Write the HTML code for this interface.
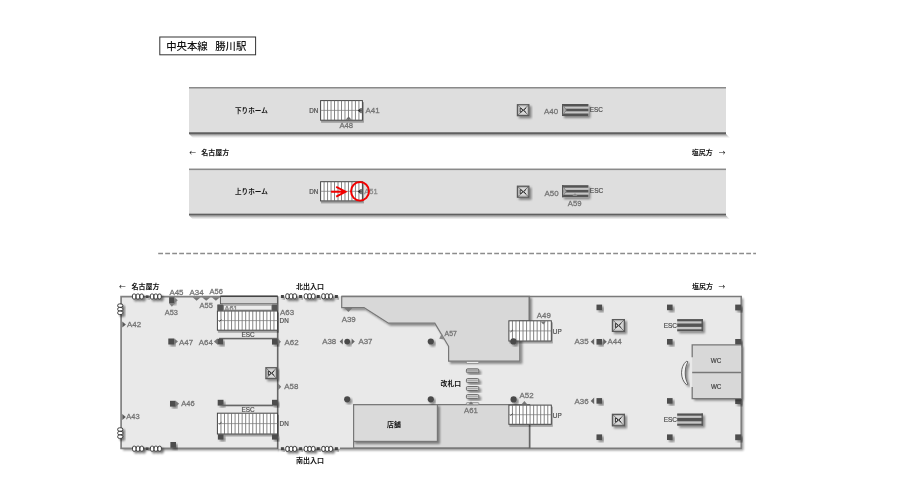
<!DOCTYPE html>
<html lang="ja">
<head>
<meta charset="utf-8">
<title>中央本線 勝川駅</title>
<style>
html,body{margin:0;padding:0;background:#fff;}
body{width:919px;height:491px;overflow:hidden;}
svg{display:block;will-change:transform;font-family:"Liberation Sans","Noto Sans CJK JP",sans-serif;}
</style>
</head>
<body>
<svg width="919" height="491" viewBox="0 0 919 491">
<defs>
<filter id="sh" x="-20%" y="-20%" width="150%" height="160%">
<feGaussianBlur in="SourceAlpha" stdDeviation="0.8"/>
<feOffset dx="1.6" dy="1.6" result="b"/>
<feComponentTransfer><feFuncA type="linear" slope="0.42"/></feComponentTransfer>
<feMerge><feMergeNode/><feMergeNode in="SourceGraphic"/></feMerge>
</filter>
<filter id="sh2" x="-20%" y="-20%" width="150%" height="160%">
<feGaussianBlur in="SourceAlpha" stdDeviation="0.7"/>
<feOffset dx="1.2" dy="1.5" result="b"/>
<feComponentTransfer><feFuncA type="linear" slope="0.3"/></feComponentTransfer>
<feMerge><feMergeNode/><feMergeNode in="SourceGraphic"/></feMerge>
</filter>
<filter id="shw" x="-30%" y="-50%" width="180%" height="250%">
<feGaussianBlur in="SourceAlpha" stdDeviation="0.9"/>
<feOffset dx="2.4" dy="2.4" result="b"/>
<feComponentTransfer><feFuncA type="linear" slope="0.5"/></feComponentTransfer>
<feMerge><feMergeNode/><feMergeNode in="SourceGraphic"/></feMerge>
</filter>
<filter id="shp" x="-5%" y="-20%" width="110%" height="160%">
<feGaussianBlur in="SourceAlpha" stdDeviation="1"/>
<feOffset dx="1.8" dy="2" result="b"/>
<feComponentTransfer><feFuncA type="linear" slope="0.42"/></feComponentTransfer>
<feMerge><feMergeNode/><feMergeNode in="SourceGraphic"/></feMerge>
</filter>
<linearGradient id="pg" x1="0" y1="0" x2="0" y2="1"><stop offset="0" stop-color="#000" stop-opacity="0.42"/><stop offset="0.5" stop-color="#000" stop-opacity="0.16"/><stop offset="1" stop-color="#000" stop-opacity="0"/></linearGradient>
</defs>
<rect width="919" height="491" fill="#fff"/>

<rect x="159.8" y="37" width="95.8" height="17.8" fill="#fff" stroke="#333" stroke-width="1"/>
<text x="166.2" y="50.2" font-size="10.4" fill="#111" font-weight="500" text-anchor="start" >中央本線</text>
<text x="215.2" y="50.2" font-size="10.4" fill="#111" font-weight="500" text-anchor="start" >勝川駅</text>
<rect x="189" y="87" width="537" height="45.19999999999999" fill="#dedede"/>
<rect x="189" y="87" width="537" height="1.5" fill="#8a8a8a"/>
<polygon points="189,134.10 726,134.10 730,138.10 193,138.10" fill="url(#pg)"/>
<rect x="189" y="132.2" width="537" height="1.9" fill="#606060"/>
<rect x="189" y="168.6" width="537" height="45.0" fill="#dedede"/>
<rect x="189" y="168.6" width="537" height="1.5" fill="#8a8a8a"/>
<polygon points="189,215.50 726,215.50 730,219.50 193,219.50" fill="url(#pg)"/>
<rect x="189" y="213.6" width="537" height="1.9" fill="#606060"/>
<text x="235" y="113" font-size="6.6" fill="#111" font-weight="bold" text-anchor="start" >下りホーム</text>
<text x="235" y="194" font-size="6.6" fill="#111" font-weight="bold" text-anchor="start" >上りホーム</text>
<text x="189.29999999999998" y="155.29999999999998" font-size="6.7" font-weight="400" fill="#111" style="font-family:'Noto Sans CJK JP',sans-serif">←</text>
<text x="201.2" y="155.3" font-size="7" fill="#111" font-weight="bold" text-anchor="start" >名古屋方</text>
<text x="691.8" y="155.0" font-size="7" fill="#111" font-weight="bold" text-anchor="start" >塩尻方</text>
<text x="718.7" y="155.1" font-size="6.7" font-weight="400" fill="#111" style="font-family:'Noto Sans CJK JP',sans-serif">→</text>
<g filter="url(#sh2)"><rect x="320.6" y="100.6" width="41.8" height="19.6" fill="#fff" stroke="#444" stroke-width="1"/></g>
<path d="M324.08 100.6V120.19999999999999M327.57 100.6V120.19999999999999M331.05 100.6V120.19999999999999M334.53 100.6V120.19999999999999M338.02 100.6V120.19999999999999M341.50 100.6V120.19999999999999M344.98 100.6V120.19999999999999M348.47 100.6V120.19999999999999M351.95 100.6V120.19999999999999M355.43 100.6V120.19999999999999M358.92 100.6V120.19999999999999" stroke="#666" stroke-width="0.8" fill="none"/>
<path d="M320.6 110.39999999999999H362.40000000000003" stroke="#777" stroke-width="0.7" fill="none"/>
<polygon points="357.6,110.6 360.5,108.3 360.5,112.9" fill="#333"/>
<path d="M361.1 108V113.2" stroke="#333" stroke-width="1"/>
<polygon points="345.6,119.7 348.6,116.6 351.6,119.7" fill="#6a6a6a"/>
<text x="309.3" y="112.8" font-size="6.3" fill="#4d4d4d" stroke="#4d4d4d" stroke-width="0.18" font-weight="normal" text-anchor="start" >DN</text>
<text x="365.6" y="113.2" font-size="7.9" fill="#747474" stroke="#747474" stroke-width="0.28" font-weight="normal" text-anchor="start" >A41</text>
<text x="339.4" y="127.6" font-size="7.7" fill="#747474" stroke="#747474" stroke-width="0.28" font-weight="normal" text-anchor="start" >A48</text>
<g filter="url(#sh)"><rect x="517.45" y="104.75" width="11.40" height="10.90" fill="#d8d8d8" stroke="#5a5a5a" stroke-width="1.3"/></g>
<rect x="518.65" y="105.95" width="9.00" height="8.50" fill="none" stroke="#aaa" stroke-width="0.6"/>
<path d="M517.45 104.75L528.85 115.65M528.85 104.75L517.45 115.65" stroke="#5a5a5a" stroke-width="0.75" fill="none"/>
<path d="M520.15 108.10V112.30Q522.65 111.70 522.55 110.20Q522.65 108.70 520.15 108.10M526.15 107.80L523.65 110.20L526.15 112.60" stroke="#2a2a2a" stroke-width="0.95" fill="none"/>
<text x="544" y="113.8" font-size="7.9" fill="#747474" stroke="#747474" stroke-width="0.28" font-weight="normal" text-anchor="start" >A40</text>
<g filter="url(#sh)"><rect x="562" y="104" width="26.4" height="12" fill="#c6c6c6"/></g>
<rect x="562" y="104.00" width="26.4" height="2.5" fill="#545454"/>
<rect x="562" y="108.70" width="26.4" height="2.6" fill="#545454"/>
<rect x="562" y="113.50" width="26.4" height="2.5" fill="#545454"/>
<rect x="562" y="104" width="1.4" height="12" fill="#545454"/>
<path d="M563.2 105.6L566.4 110.0L563.2 114.4" stroke="#777" stroke-width="0.7" fill="#a8a8a8"/>
<text x="589.8" y="111.6" font-size="6.4" fill="#4d4d4d" stroke="#4d4d4d" stroke-width="0.18" font-weight="normal" text-anchor="start" >ESC</text>
<g filter="url(#sh2)"><rect x="320.6" y="181.7" width="41.8" height="19.2" fill="#fff" stroke="#444" stroke-width="1"/></g>
<path d="M324.08 181.7V200.89999999999998M327.57 181.7V200.89999999999998M331.05 181.7V200.89999999999998M334.53 181.7V200.89999999999998M338.02 181.7V200.89999999999998M341.50 181.7V200.89999999999998M344.98 181.7V200.89999999999998M348.47 181.7V200.89999999999998M351.95 181.7V200.89999999999998M355.43 181.7V200.89999999999998M358.92 181.7V200.89999999999998" stroke="#666" stroke-width="0.8" fill="none"/>
<path d="M320.6 191.29999999999998H362.40000000000003" stroke="#777" stroke-width="0.7" fill="none"/>
<polygon points="357.6,191.6 360.5,189.3 360.5,193.9" fill="#333"/>
<path d="M361.1 189V194.2" stroke="#333" stroke-width="1"/>
<text x="309.3" y="194.2" font-size="6.3" fill="#4d4d4d" stroke="#4d4d4d" stroke-width="0.18" font-weight="normal" text-anchor="start" >DN</text>
<text x="364.3" y="193.5" font-size="7.5" fill="#8a8a8a" stroke="#8a8a8a" stroke-width="0.28" font-weight="normal" text-anchor="start" >A51</text>
<g filter="url(#sh)"><rect x="517.45" y="186.25" width="11.40" height="10.90" fill="#d8d8d8" stroke="#5a5a5a" stroke-width="1.3"/></g>
<rect x="518.65" y="187.45" width="9.00" height="8.50" fill="none" stroke="#aaa" stroke-width="0.6"/>
<path d="M517.45 186.25L528.85 197.15M528.85 186.25L517.45 197.15" stroke="#5a5a5a" stroke-width="0.75" fill="none"/>
<path d="M520.15 189.60V193.80Q522.65 193.20 522.55 191.70Q522.65 190.20 520.15 189.60M526.15 189.30L523.65 191.70L526.15 194.10" stroke="#2a2a2a" stroke-width="0.95" fill="none"/>
<text x="544.6" y="195.8" font-size="7.9" fill="#747474" stroke="#747474" stroke-width="0.28" font-weight="normal" text-anchor="start" >A50</text>
<g filter="url(#sh)"><rect x="562" y="185.2" width="26.4" height="12" fill="#c6c6c6"/></g>
<rect x="562" y="185.20" width="26.4" height="2.5" fill="#545454"/>
<rect x="562" y="189.90" width="26.4" height="2.6" fill="#545454"/>
<rect x="562" y="194.70" width="26.4" height="2.5" fill="#545454"/>
<rect x="562" y="185.2" width="1.4" height="12" fill="#545454"/>
<path d="M563.2 186.79999999999998L566.4 191.2L563.2 195.6" stroke="#777" stroke-width="0.7" fill="#a8a8a8"/>
<text x="589.8" y="193.2" font-size="6.5" fill="#4d4d4d" stroke="#4d4d4d" stroke-width="0.18" font-weight="normal" text-anchor="start" >ESC</text>
<polygon points="572.4,195.9 575,193.2 577.6,195.9" fill="#8a8a8a"/>
<text x="567.8" y="205.8" font-size="7.7" fill="#747474" stroke="#747474" stroke-width="0.28" font-weight="normal" text-anchor="start" >A59</text>
<path d="M331.1 191.7H345M336.2 186.8L345.6 191.7L336.2 196.6" stroke="#f20000" stroke-width="1.9" fill="none" stroke-linejoin="miter"/>
<ellipse cx="360" cy="191.3" rx="9" ry="9.3" fill="none" stroke="#f20000" stroke-width="1.9"/>
<path d="M158.2 253.6H756" stroke="#8c8c8c" stroke-width="1.5" stroke-dasharray="4.8 2.2" fill="none"/>
<g filter="url(#shp)"><rect x="121" y="296.4" width="620.4" height="152" fill="#e9e9e9"/></g>
<rect x="121" y="296.4" width="620.4" height="152" fill="#e9e9e9"/>
<g filter="url(#sh)">
<polygon points="341.7,296.4 529.3,296.4 529.3,321 519.8,321 519.8,361.2 448.6,361.2 448.6,346.3 434.8,323.2 388.5,323.2 364,307.6 341.7,307.6" fill="#d8d8d8" stroke="#777" stroke-width="1.2" stroke-linejoin="miter"/>
</g>
<polygon points="353.6,404.7 529.6,404.7 529.6,448.2 353.6,448.2" fill="#d8d8d8" stroke="#777" stroke-width="1.2"/>
<g filter="url(#sh)"><rect x="353.6" y="404.7" width="83.8" height="36.7" fill="#dadada" stroke="#777" stroke-width="1.2"/></g>
<path d="M341.7 296.4H741.2V448.2H340" stroke="#7a7a7a" stroke-width="1.5" fill="none"/>
<path d="M529.4 296.4V321" stroke="#777" stroke-width="1.4" fill="none"/>
<path d="M529.6 424.7V448.2" stroke="#666" stroke-width="1.6" fill="none"/>
<path d="M277.5 296.7H121.1V448.4H277.5" stroke="#808080" stroke-width="1.7" fill="none"/>
<rect x="276.9" y="296.4" width="1.5" height="152.6" fill="#666" filter="url(#sh)"/>
<rect x="220.4" y="296.6" width="57" height="7.2" fill="#d4d4d4" stroke="#555" stroke-width="0.9"/>
<path d="M220.4 296.3H277.8" stroke="#444" stroke-width="1.4"/>
<rect x="217.4" y="304.6" width="60.1" height="6" fill="#808080"/>
<rect x="217.4" y="304.6" width="5.5" height="6" fill="#555"/>
<rect x="272.1" y="304.6" width="5.4" height="6" fill="#555"/>
<rect x="224" y="305.5" width="47.4" height="4.2" fill="#ececec"/>
<text x="224.6" y="311.0" font-size="7.2" fill="#808080" stroke="#808080" stroke-width="0.28" font-weight="normal" text-anchor="start" clip-path="url(#c61)">A61</text>
<clipPath id="c61"><rect x="224" y="305.5" width="20" height="4.2"/></clipPath>
<g filter="url(#sh2)"><rect x="217.4" y="311" width="60.1" height="19.2" fill="#fff" stroke="#444" stroke-width="1"/></g>
<path d="M220.94 311V330.2M224.47 311V330.2M228.01 311V330.2M231.54 311V330.2M235.08 311V330.2M238.61 311V330.2M242.15 311V330.2M245.68 311V330.2M249.22 311V330.2M252.75 311V330.2M256.29 311V330.2M259.82 311V330.2M263.36 311V330.2M266.89 311V330.2M270.43 311V330.2M273.96 311V330.2" stroke="#666" stroke-width="0.8" fill="none"/>
<path d="M217.4 320.6H277.5" stroke="#777" stroke-width="0.7" fill="none"/>
<path d="M219.2 321.6L221.6 319.6" stroke="#333" stroke-width="0.8"/>
<text x="241.6" y="336.6" font-size="6.4" fill="#4d4d4d" stroke="#4d4d4d" stroke-width="0.18" font-weight="normal" text-anchor="start" >ESC</text>
<rect x="219" y="337.8" width="58" height="1.4" fill="#666" filter="url(#sh)"/>
<rect x="217.2" y="338.8" width="6" height="5.6" fill="#4d4d4d" filter="url(#sh)"/>
<rect x="272" y="339" width="5.6" height="5.6" fill="#4d4d4d" filter="url(#sh)"/>
<polygon points="213.9,341.6 217.3,338.6 217.3,344.6" fill="#777"/>
<polygon points="277.8,338.8 281,341.8 277.8,344.8" fill="#777"/>
<rect x="217.7" y="399.8" width="5.8" height="5.8" fill="#4d4d4d" filter="url(#sh)"/>
<rect x="272" y="399.8" width="5.6" height="5.8" fill="#4d4d4d" filter="url(#sh)"/>
<rect x="222" y="404.6" width="51" height="1.4" fill="#666" filter="url(#sh)"/>
<text x="241.6" y="411.9" font-size="6.4" fill="#4d4d4d" stroke="#4d4d4d" stroke-width="0.18" font-weight="normal" text-anchor="start" >ESC</text>
<g filter="url(#sh2)"><rect x="217.4" y="413.2" width="60.1" height="20.8" fill="#fff" stroke="#444" stroke-width="1"/></g>
<path d="M220.94 413.2V434.0M224.47 413.2V434.0M228.01 413.2V434.0M231.54 413.2V434.0M235.08 413.2V434.0M238.61 413.2V434.0M242.15 413.2V434.0M245.68 413.2V434.0M249.22 413.2V434.0M252.75 413.2V434.0M256.29 413.2V434.0M259.82 413.2V434.0M263.36 413.2V434.0M266.89 413.2V434.0M270.43 413.2V434.0M273.96 413.2V434.0" stroke="#666" stroke-width="0.8" fill="none"/>
<path d="M217.4 423.59999999999997H277.5" stroke="#777" stroke-width="0.7" fill="none"/>
<path d="M219.2 424.2L221.6 422.2" stroke="#333" stroke-width="0.8"/>
<rect x="217.9" y="434.4" width="5.6" height="5.2" fill="#4d4d4d" filter="url(#sh)"/>
<rect x="272" y="434.4" width="5.6" height="5.2" fill="#4d4d4d" filter="url(#sh)"/>
<g filter="url(#sh)"><rect x="265.95" y="367.75" width="10.80" height="10.90" fill="#d8d8d8" stroke="#5a5a5a" stroke-width="1.3"/></g>
<rect x="267.15" y="368.95" width="8.40" height="8.50" fill="none" stroke="#aaa" stroke-width="0.6"/>
<path d="M265.95 367.75L276.75 378.65M276.75 367.75L265.95 378.65" stroke="#5a5a5a" stroke-width="0.75" fill="none"/>
<path d="M268.35 371.10V375.30Q270.85 374.70 270.75 373.20Q270.85 371.70 268.35 371.10M274.35 370.80L271.85 373.20L274.35 375.60" stroke="#2a2a2a" stroke-width="0.95" fill="none"/>
<rect x="169.1" y="297.2" width="5.4" height="5.8" fill="#4d4d4d" filter="url(#sh)"/>
<polygon points="174.5,297.4 177.8,300.2 174.5,303" fill="#808080"/>
<polygon points="168.8,303 175,303 171.9,306.8" fill="#808080"/>
<rect x="168.3" y="338.5" width="5.9" height="6" fill="#4d4d4d" filter="url(#sh)"/>
<polygon points="174.2,338.6 178,341.5 174.2,344.4" fill="#777"/>
<rect x="170" y="400.8" width="5.7" height="5.8" fill="#4d4d4d" filter="url(#sh)"/>
<polygon points="175.7,400.9 179.2,403.7 175.7,406.5" fill="#777"/>
<rect x="170.4" y="442" width="5.6" height="5.8" fill="#4d4d4d" filter="url(#sh)"/>
<polygon points="192.6,297.2 200.6,297.2 196.6,300.7" fill="#777"/>
<polygon points="202,297.2 210.4,297.2 206.2,300.7" fill="#777"/>
<polygon points="211.8,297.2 220,297.2 215.9,300.7" fill="#777"/>
<polygon points="122.3,321.4 125.9,324.4 122.3,327.4" fill="#5a5a5a"/>
<polygon points="122.3,413.9 125.8,416.9 122.3,419.9" fill="#5a5a5a"/>
<polygon points="278.2,383.4 281.2,386.7 278.2,390" fill="#777"/>
<g filter="url(#shw)">
<rect x="132.40" y="294.00" width="3.53" height="5.00" rx="1.3" ry="1.9" fill="#fff" stroke="#333" stroke-width="0.95"/>
<rect x="136.13" y="294.00" width="3.53" height="5.00" rx="1.3" ry="1.9" fill="#fff" stroke="#333" stroke-width="0.95"/>
<rect x="139.87" y="294.00" width="3.53" height="5.00" rx="1.3" ry="1.9" fill="#fff" stroke="#333" stroke-width="0.95"/>
</g>
<rect x="146.0" y="295.4" width="2.6" height="2.6" fill="#444" filter="url(#sh)"/>
<g filter="url(#shw)">
<rect x="150.30" y="294.00" width="3.53" height="5.00" rx="1.3" ry="1.9" fill="#fff" stroke="#333" stroke-width="0.95"/>
<rect x="154.03" y="294.00" width="3.53" height="5.00" rx="1.3" ry="1.9" fill="#fff" stroke="#333" stroke-width="0.95"/>
<rect x="157.77" y="294.00" width="3.53" height="5.00" rx="1.3" ry="1.9" fill="#fff" stroke="#333" stroke-width="0.95"/>
</g>
<g filter="url(#shw)">
<rect x="132.50" y="446.20" width="3.53" height="5.00" rx="1.3" ry="1.9" fill="#fff" stroke="#333" stroke-width="0.95"/>
<rect x="136.23" y="446.20" width="3.53" height="5.00" rx="1.3" ry="1.9" fill="#fff" stroke="#333" stroke-width="0.95"/>
<rect x="139.97" y="446.20" width="3.53" height="5.00" rx="1.3" ry="1.9" fill="#fff" stroke="#333" stroke-width="0.95"/>
</g>
<rect x="146.0" y="447.5" width="2.5" height="2.5" fill="#444" filter="url(#sh)"/>
<g filter="url(#shw)">
<rect x="150.40" y="446.20" width="3.53" height="5.00" rx="1.3" ry="1.9" fill="#fff" stroke="#333" stroke-width="0.95"/>
<rect x="154.13" y="446.20" width="3.53" height="5.00" rx="1.3" ry="1.9" fill="#fff" stroke="#333" stroke-width="0.95"/>
<rect x="157.87" y="446.20" width="3.53" height="5.00" rx="1.3" ry="1.9" fill="#fff" stroke="#333" stroke-width="0.95"/>
</g>
<g filter="url(#shw)">
<rect x="117.70" y="303.90" width="5.10" height="3.40" rx="1.9" ry="1.3" fill="#fff" stroke="#333" stroke-width="0.95"/>
<rect x="117.70" y="307.50" width="5.10" height="3.40" rx="1.9" ry="1.3" fill="#fff" stroke="#333" stroke-width="0.95"/>
<rect x="117.70" y="311.10" width="5.10" height="3.40" rx="1.9" ry="1.3" fill="#fff" stroke="#333" stroke-width="0.95"/>
</g>
<g filter="url(#shw)">
<rect x="117.70" y="427.80" width="5.10" height="3.40" rx="1.9" ry="1.3" fill="#fff" stroke="#333" stroke-width="0.95"/>
<rect x="117.70" y="431.40" width="5.10" height="3.40" rx="1.9" ry="1.3" fill="#fff" stroke="#333" stroke-width="0.95"/>
<rect x="117.70" y="435.00" width="5.10" height="3.40" rx="1.9" ry="1.3" fill="#fff" stroke="#333" stroke-width="0.95"/>
</g>
<rect x="280.9" y="295.0" width="3" height="3" fill="#444" filter="url(#sh)"/>
<rect x="299.1" y="295.0" width="3" height="3" fill="#444" filter="url(#sh)"/>
<rect x="316.8" y="295.0" width="3" height="3" fill="#444" filter="url(#sh)"/>
<rect x="334.9" y="295.0" width="3" height="3" fill="#444" filter="url(#sh)"/>
<g filter="url(#shw)">
<rect x="285.70" y="293.80" width="3.47" height="5.00" rx="1.3" ry="1.9" fill="#fff" stroke="#333" stroke-width="0.95"/>
<rect x="289.37" y="293.80" width="3.47" height="5.00" rx="1.3" ry="1.9" fill="#fff" stroke="#333" stroke-width="0.95"/>
<rect x="293.03" y="293.80" width="3.47" height="5.00" rx="1.3" ry="1.9" fill="#fff" stroke="#333" stroke-width="0.95"/>
</g>
<g filter="url(#shw)">
<rect x="304.20" y="293.80" width="3.47" height="5.00" rx="1.3" ry="1.9" fill="#fff" stroke="#333" stroke-width="0.95"/>
<rect x="307.87" y="293.80" width="3.47" height="5.00" rx="1.3" ry="1.9" fill="#fff" stroke="#333" stroke-width="0.95"/>
<rect x="311.53" y="293.80" width="3.47" height="5.00" rx="1.3" ry="1.9" fill="#fff" stroke="#333" stroke-width="0.95"/>
</g>
<g filter="url(#shw)">
<rect x="321.70" y="293.80" width="3.47" height="5.00" rx="1.3" ry="1.9" fill="#fff" stroke="#333" stroke-width="0.95"/>
<rect x="325.37" y="293.80" width="3.47" height="5.00" rx="1.3" ry="1.9" fill="#fff" stroke="#333" stroke-width="0.95"/>
<rect x="329.03" y="293.80" width="3.47" height="5.00" rx="1.3" ry="1.9" fill="#fff" stroke="#333" stroke-width="0.95"/>
</g>
<rect x="280.9" y="447.2" width="3" height="3" fill="#444" filter="url(#sh)"/>
<rect x="299.1" y="447.2" width="3" height="3" fill="#444" filter="url(#sh)"/>
<rect x="316.8" y="447.2" width="3" height="3" fill="#444" filter="url(#sh)"/>
<rect x="334.9" y="447.2" width="3" height="3" fill="#444" filter="url(#sh)"/>
<g filter="url(#shw)">
<rect x="285.70" y="446.40" width="3.47" height="5.00" rx="1.3" ry="1.9" fill="#fff" stroke="#333" stroke-width="0.95"/>
<rect x="289.37" y="446.40" width="3.47" height="5.00" rx="1.3" ry="1.9" fill="#fff" stroke="#333" stroke-width="0.95"/>
<rect x="293.03" y="446.40" width="3.47" height="5.00" rx="1.3" ry="1.9" fill="#fff" stroke="#333" stroke-width="0.95"/>
</g>
<g filter="url(#shw)">
<rect x="304.20" y="446.40" width="3.47" height="5.00" rx="1.3" ry="1.9" fill="#fff" stroke="#333" stroke-width="0.95"/>
<rect x="307.87" y="446.40" width="3.47" height="5.00" rx="1.3" ry="1.9" fill="#fff" stroke="#333" stroke-width="0.95"/>
<rect x="311.53" y="446.40" width="3.47" height="5.00" rx="1.3" ry="1.9" fill="#fff" stroke="#333" stroke-width="0.95"/>
</g>
<g filter="url(#shw)">
<rect x="321.70" y="446.40" width="3.47" height="5.00" rx="1.3" ry="1.9" fill="#fff" stroke="#333" stroke-width="0.95"/>
<rect x="325.37" y="446.40" width="3.47" height="5.00" rx="1.3" ry="1.9" fill="#fff" stroke="#333" stroke-width="0.95"/>
<rect x="329.03" y="446.40" width="3.47" height="5.00" rx="1.3" ry="1.9" fill="#fff" stroke="#333" stroke-width="0.95"/>
</g>
<text x="119.10000000000001" y="289.3" font-size="6.7" font-weight="400" fill="#111" style="font-family:'Noto Sans CJK JP',sans-serif">←</text>
<text x="131.4" y="289.3" font-size="7" fill="#111" font-weight="bold" text-anchor="start" >名古屋方</text>
<text x="169.4" y="294.7" font-size="7.9" fill="#747474" stroke="#747474" stroke-width="0.28" font-weight="normal" text-anchor="start" >A45</text>
<text x="189.6" y="294.7" font-size="7.9" fill="#747474" stroke="#747474" stroke-width="0.28" font-weight="normal" text-anchor="start" >A34</text>
<text x="209.6" y="294.3" font-size="7.5" fill="#747474" stroke="#747474" stroke-width="0.28" font-weight="normal" text-anchor="start" >A56</text>
<text x="199.6" y="308.0" font-size="7.5" fill="#747474" stroke="#747474" stroke-width="0.28" font-weight="normal" text-anchor="start" >A55</text>
<text x="164.8" y="314.5" font-size="7.4" fill="#747474" stroke="#747474" stroke-width="0.28" font-weight="normal" text-anchor="start" >A53</text>
<text x="127.0" y="327.3" font-size="7.9" fill="#747474" stroke="#747474" stroke-width="0.28" font-weight="normal" text-anchor="start" >A42</text>
<text x="179.1" y="344.5" font-size="7.9" fill="#747474" stroke="#747474" stroke-width="0.28" font-weight="normal" text-anchor="start" >A47</text>
<text x="198.8" y="344.5" font-size="7.9" fill="#747474" stroke="#747474" stroke-width="0.28" font-weight="normal" text-anchor="start" >A64</text>
<text x="181.3" y="406.1" font-size="7.5" fill="#747474" stroke="#747474" stroke-width="0.28" font-weight="normal" text-anchor="start" >A46</text>
<text x="126.3" y="419.4" font-size="7.5" fill="#747474" stroke="#747474" stroke-width="0.28" font-weight="normal" text-anchor="start" >A43</text>
<text x="280.1" y="314.8" font-size="7.9" fill="#747474" stroke="#747474" stroke-width="0.28" font-weight="normal" text-anchor="start" >A63</text>
<text x="279.6" y="323.2" font-size="6.3" fill="#4d4d4d" stroke="#4d4d4d" stroke-width="0.18" font-weight="normal" text-anchor="start" >DN</text>
<text x="284.6" y="345.4" font-size="7.9" fill="#747474" stroke="#747474" stroke-width="0.28" font-weight="normal" text-anchor="start" >A62</text>
<text x="284.3" y="389.4" font-size="7.9" fill="#747474" stroke="#747474" stroke-width="0.28" font-weight="normal" text-anchor="start" >A58</text>
<text x="279.6" y="426.4" font-size="6.3" fill="#4d4d4d" stroke="#4d4d4d" stroke-width="0.18" font-weight="normal" text-anchor="start" >DN</text>
<text x="296.1" y="289.3" font-size="7" fill="#111" font-weight="bold" text-anchor="start" >北出入口</text>
<text x="296.1" y="463.2" font-size="7" fill="#111" font-weight="bold" text-anchor="start" >南出入口</text>
<text x="341.7" y="321.6" font-size="7.9" fill="#747474" stroke="#747474" stroke-width="0.28" font-weight="normal" text-anchor="start" >A39</text>
<polygon points="344.4,308.1 352.4,308.1 348.4,311.9" fill="#777"/>
<text x="322.2" y="344.4" font-size="7.9" fill="#747474" stroke="#747474" stroke-width="0.28" font-weight="normal" text-anchor="start" >A38</text>
<text x="358.4" y="344.2" font-size="7.9" fill="#747474" stroke="#747474" stroke-width="0.28" font-weight="normal" text-anchor="start" >A37</text>
<circle cx="347.2" cy="341.6" r="2.9" fill="#4a4a4a" filter="url(#sh)"/>
<polygon points="339.6,341.6 342.8,338.6 342.8,344.6" fill="#666"/>
<polygon points="354.8,341.6 351.6,338.6 351.6,344.6" fill="#666"/>
<circle cx="430.8" cy="341.5" r="3.1" fill="#4a4a4a" filter="url(#sh)"/>
<circle cx="347.2" cy="399.3" r="3.1" fill="#4a4a4a" filter="url(#sh)"/>
<circle cx="430.8" cy="399.3" r="3.1" fill="#4a4a4a" filter="url(#sh)"/>
<text x="444.6" y="335.9" font-size="6.9" fill="#747474" stroke="#747474" stroke-width="0.28" font-weight="normal" text-anchor="start" >A57</text>
<polygon points="439.2,338.8 441.8,333.6 444.4,339.6" fill="#888"/>
<rect x="466.4" y="361.4" width="12.4" height="2" rx="0.8" fill="#f4f4f4" stroke="#777" stroke-width="0.7"/>
<g filter="url(#sh)"><rect x="466.4" y="368.8" width="12.4" height="4" rx="1.2" fill="#bcbcbc" stroke="#606060" stroke-width="0.9"/></g>
<path d="M467.4 370.8H477.8" stroke="#888" stroke-width="0.6"/>
<g filter="url(#sh)"><rect x="466.4" y="378.6" width="12.4" height="4" rx="1.2" fill="#d2d2d2" stroke="#606060" stroke-width="0.9"/></g>
<path d="M467.4 380.6H477.8" stroke="#888" stroke-width="0.6"/>
<g filter="url(#sh)"><rect x="466.4" y="386.5" width="12.4" height="4" rx="1.2" fill="#d2d2d2" stroke="#606060" stroke-width="0.9"/></g>
<path d="M467.4 388.5H477.8" stroke="#888" stroke-width="0.6"/>
<g filter="url(#sh)"><rect x="466.4" y="394.6" width="12.4" height="4" rx="1.2" fill="#d2d2d2" stroke="#606060" stroke-width="0.9"/></g>
<path d="M467.4 396.6H477.8" stroke="#888" stroke-width="0.6"/>
<rect x="466.4" y="402.6" width="12.4" height="2.2" rx="0.8" fill="#e0e0e0" stroke="#777" stroke-width="0.7"/>
<polygon points="468.4,404.6 471,401.4 473.6,404.6" fill="#777"/>
<text x="440.6" y="386.4" font-size="6.8" fill="#111" font-weight="bold" text-anchor="start" >改札口</text>
<text x="464.1" y="412.9" font-size="7.7" fill="#747474" stroke="#747474" stroke-width="0.28" font-weight="normal" text-anchor="start" >A61</text>
<text x="387.1" y="426.6" font-size="6.9" fill="#111" font-weight="bold" text-anchor="start" >店舗</text>
<g filter="url(#sh2)"><rect x="508.9" y="320.8" width="42.4" height="20.2" fill="#fff" stroke="#444" stroke-width="1"/></g>
<path d="M512.43 320.8V341.0M515.97 320.8V341.0M519.50 320.8V341.0M523.03 320.8V341.0M526.57 320.8V341.0M530.10 320.8V341.0M533.63 320.8V341.0M537.17 320.8V341.0M540.70 320.8V341.0M544.23 320.8V341.0M547.77 320.8V341.0" stroke="#666" stroke-width="0.8" fill="none"/>
<path d="M508.9 330.90000000000003H551.3" stroke="#777" stroke-width="0.7" fill="none"/>
<path d="M510.4 332L512.8 330" stroke="#333" stroke-width="0.8"/>
<g filter="url(#sh2)"><rect x="508.9" y="405.1" width="42.4" height="19.2" fill="#fff" stroke="#444" stroke-width="1"/></g>
<path d="M512.43 405.1V424.3M515.97 405.1V424.3M519.50 405.1V424.3M523.03 405.1V424.3M526.57 405.1V424.3M530.10 405.1V424.3M533.63 405.1V424.3M537.17 405.1V424.3M540.70 405.1V424.3M544.23 405.1V424.3M547.77 405.1V424.3" stroke="#666" stroke-width="0.8" fill="none"/>
<path d="M508.9 414.70000000000005H551.3" stroke="#777" stroke-width="0.7" fill="none"/>
<path d="M510.4 415.6L512.8 413.6" stroke="#333" stroke-width="0.8"/>
<circle cx="513.4" cy="341.4" r="3.1" fill="#4a4a4a" filter="url(#sh)"/>
<circle cx="513.6" cy="399.4" r="3.1" fill="#4a4a4a" filter="url(#sh)"/>
<text x="536.8" y="317.9" font-size="7.9" fill="#747474" stroke="#747474" stroke-width="0.28" font-weight="normal" text-anchor="start" >A49</text>
<polygon points="540.6,321.6 546,321.6 543.3,324.6" fill="#777"/>
<text x="552.8" y="333.6" font-size="6.4" fill="#4d4d4d" stroke="#4d4d4d" stroke-width="0.18" font-weight="normal" text-anchor="start" >UP</text>
<text x="519.6" y="397.5" font-size="7.9" fill="#747474" stroke="#747474" stroke-width="0.28" font-weight="normal" text-anchor="start" >A52</text>
<polygon points="521.4,404.4 524.4,401 527.4,404.4" fill="#777"/>
<text x="552.8" y="417.6" font-size="6.4" fill="#4d4d4d" stroke="#4d4d4d" stroke-width="0.18" font-weight="normal" text-anchor="start" >UP</text>
<rect x="596.5" y="304.6" width="5.6" height="5.6" fill="#4d4d4d" filter="url(#sh)"/>
<rect x="596.5" y="339" width="5.6" height="5.6" fill="#4d4d4d" filter="url(#sh)"/>
<rect x="596.5" y="398.1" width="5.6" height="5.6" fill="#4d4d4d" filter="url(#sh)"/>
<rect x="596.5" y="434.4" width="5.6" height="5.6" fill="#4d4d4d" filter="url(#sh)"/>
<rect x="667" y="304.6" width="5.6" height="5.6" fill="#4d4d4d" filter="url(#sh)"/>
<rect x="667" y="339" width="5.6" height="5.6" fill="#4d4d4d" filter="url(#sh)"/>
<rect x="667" y="398.1" width="5.6" height="5.6" fill="#4d4d4d" filter="url(#sh)"/>
<rect x="667" y="434.4" width="5.6" height="5.6" fill="#4d4d4d" filter="url(#sh)"/>
<rect x="735.2" y="304.6" width="6" height="5.8" fill="#4d4d4d" filter="url(#sh)"/>
<rect x="735.2" y="339" width="6" height="5.8" fill="#4d4d4d" filter="url(#sh)"/>
<rect x="735.2" y="398.2" width="6" height="5.8" fill="#4d4d4d" filter="url(#sh)"/>
<rect x="735.2" y="434.4" width="6" height="5.8" fill="#4d4d4d" filter="url(#sh)"/>
<g filter="url(#sh)"><rect x="612.45" y="319.65" width="11.90" height="11.70" fill="#d8d8d8" stroke="#5a5a5a" stroke-width="1.3"/></g>
<rect x="613.65" y="320.85" width="9.50" height="9.30" fill="none" stroke="#aaa" stroke-width="0.6"/>
<path d="M612.45 319.65L624.35 331.35M624.35 319.65L612.45 331.35" stroke="#5a5a5a" stroke-width="0.75" fill="none"/>
<path d="M615.40 323.40V327.60Q617.90 327.00 617.80 325.50Q617.90 324.00 615.40 323.40M621.40 323.10L618.90 325.50L621.40 327.90" stroke="#2a2a2a" stroke-width="0.95" fill="none"/>
<g filter="url(#sh)"><rect x="612.45" y="414.35" width="11.90" height="11.40" fill="#d8d8d8" stroke="#5a5a5a" stroke-width="1.3"/></g>
<rect x="613.65" y="415.55" width="9.50" height="9.00" fill="none" stroke="#aaa" stroke-width="0.6"/>
<path d="M612.45 414.35L624.35 425.75M624.35 414.35L612.45 425.75" stroke="#5a5a5a" stroke-width="0.75" fill="none"/>
<path d="M615.40 417.95V422.15Q617.90 421.55 617.80 420.05Q617.90 418.55 615.40 417.95M621.40 417.65L618.90 420.05L621.40 422.45" stroke="#2a2a2a" stroke-width="0.95" fill="none"/>
<text x="574.6" y="344.3" font-size="7.9" fill="#747474" stroke="#747474" stroke-width="0.28" font-weight="normal" text-anchor="start" >A35</text>
<polygon points="590.7,341.7 594.2,338.4 594.2,345" fill="#666"/>
<polygon points="606.8,341.7 603.2,338.4 603.2,345" fill="#666"/>
<text x="607.6" y="344.3" font-size="7.9" fill="#747474" stroke="#747474" stroke-width="0.28" font-weight="normal" text-anchor="start" >A44</text>
<text x="574.6" y="404.0" font-size="7.9" fill="#747474" stroke="#747474" stroke-width="0.28" font-weight="normal" text-anchor="start" >A36</text>
<polygon points="590.7,400.9 594.2,397.6 594.2,404.2" fill="#666"/>
<g filter="url(#sh)"><rect x="677.2" y="319.1" width="25.7" height="12.2" fill="#c6c6c6"/></g>
<rect x="677.2" y="319.10" width="25.7" height="2.2" fill="#545454"/>
<rect x="677.2" y="323.50" width="25.7" height="3.4" fill="#545454"/>
<rect x="677.2" y="329.30" width="25.7" height="2.0" fill="#545454"/>
<rect x="701.5000000000001" y="319.1" width="1.4" height="12.2" fill="#545454"/>
<g filter="url(#sh)"><rect x="677.2" y="413.5" width="25.7" height="12.2" fill="#c6c6c6"/></g>
<rect x="677.2" y="413.50" width="25.7" height="2.2" fill="#545454"/>
<rect x="677.2" y="417.90" width="25.7" height="3.4" fill="#545454"/>
<rect x="677.2" y="423.70" width="25.7" height="2.0" fill="#545454"/>
<rect x="701.5000000000001" y="413.5" width="1.4" height="12.2" fill="#545454"/>
<text x="663.7" y="327.5" font-size="6.5" fill="#4d4d4d" stroke="#4d4d4d" stroke-width="0.18" font-weight="normal" text-anchor="start" >ESC</text>
<text x="663.7" y="421.9" font-size="6.5" fill="#4d4d4d" stroke="#4d4d4d" stroke-width="0.18" font-weight="normal" text-anchor="start" >ESC</text>
<g filter="url(#sh)"><rect x="692.2" y="344.8" width="49" height="53.8" fill="#d8d8d8"/></g>
<path d="M692.2 357.2V344.9H741.2M692.2 372.5H741.2M692.2 387V398.6H741.2" stroke="#777" stroke-width="1.3" fill="none"/>
<path d="M686.4 361.3L688 361.8C684.3 367.5 684.3 378.5 688 384L686.4 384.5C679.9 379 679.9 366.6 686.4 361.3Z" fill="#f2f2f2" stroke="#555" stroke-width="0.9" stroke-linejoin="round" filter="url(#sh)"/>
<text x="710.8" y="362.6" font-size="6.3" fill="#444" stroke="#444" stroke-width="0.18" font-weight="normal" text-anchor="start" >WC</text>
<text x="710.9" y="388.7" font-size="6.3" fill="#444" stroke="#444" stroke-width="0.18" font-weight="normal" text-anchor="start" >WC</text>
<text x="692" y="289.0" font-size="7" fill="#111" font-weight="bold" text-anchor="start" >塩尻方</text>
<text x="718.6" y="289.0" font-size="6.7" font-weight="400" fill="#111" style="font-family:'Noto Sans CJK JP',sans-serif">→</text>
</svg>
</body>
</html>
